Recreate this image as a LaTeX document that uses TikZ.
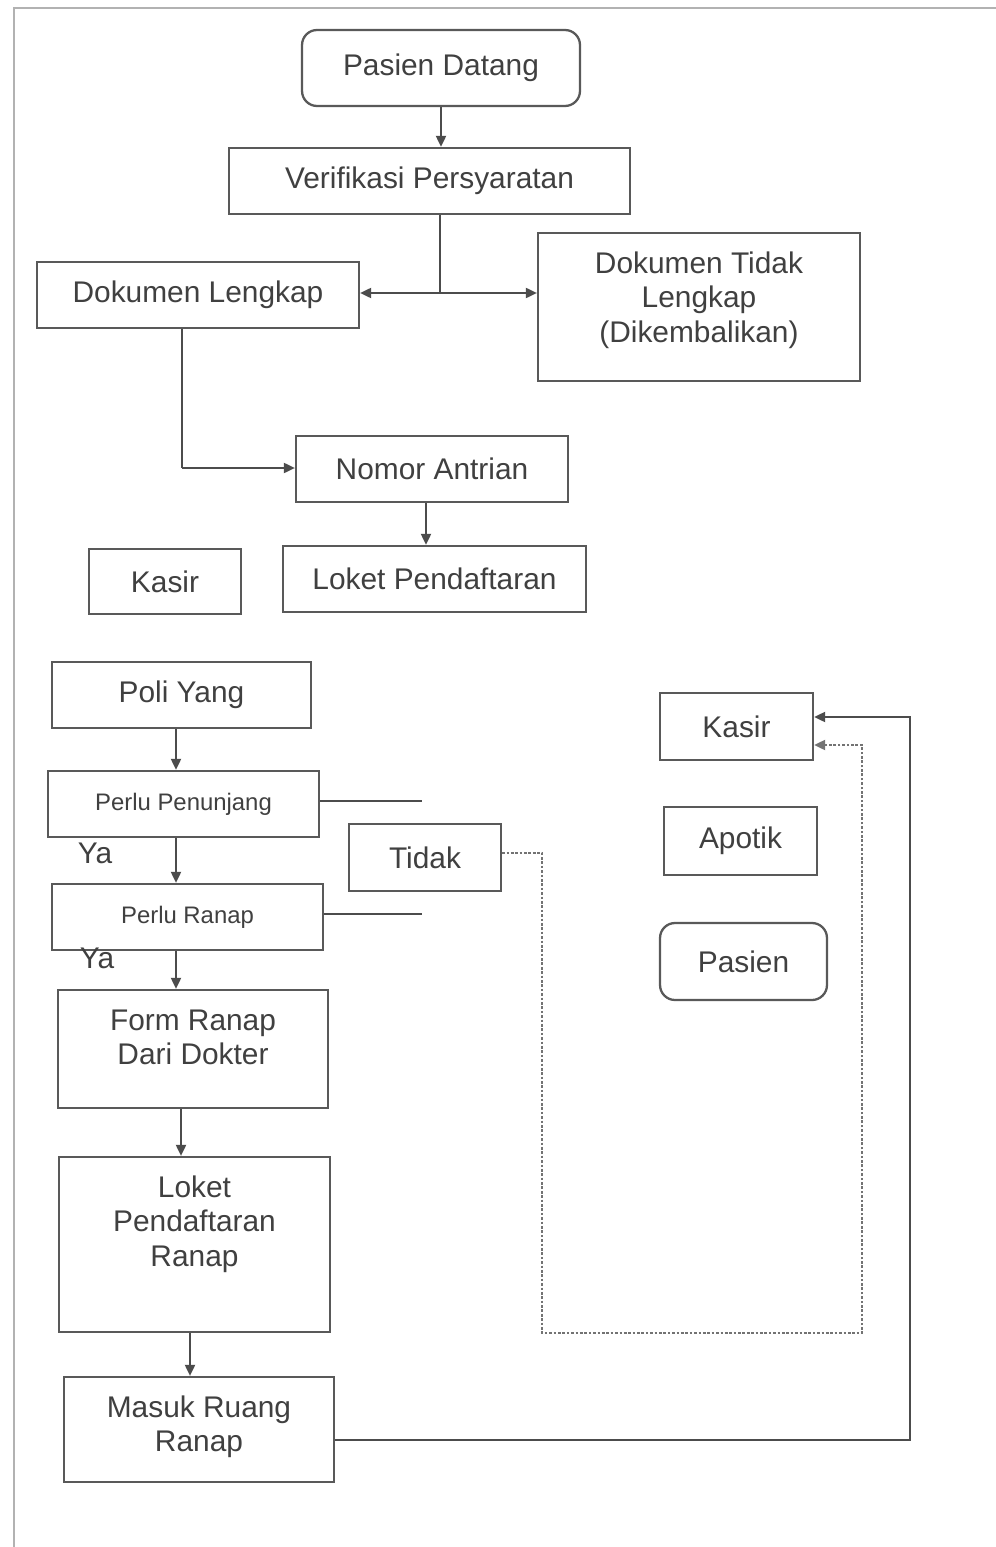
\documentclass[tikz,border=0pt]{standalone}
\usepackage{fontspec}
\setmainfont{Liberation Sans}
\usetikzlibrary{arrows.meta}
\newcommand{\tbx}[3]{\parbox[c][#2][t]{#1}{\centering\rule{0pt}{0.8cm}#3\par}}
\begin{document}
\begin{tikzpicture}[x=0.02cm, y={(0cm,-0.02cm)},
  box/.style={draw=black!65, line width=1.3pt, text=black!75, inner sep=0pt,
    font=\fontsize{17}{19.8}\selectfont},
  small/.style={font=\fontsize{13.6}{16}\selectfont},
  lbl/.style={text=black!75, inner sep=0pt, font=\fontsize{17}{19.8}\selectfont},
  conn/.style={draw=black!70, line width=1.1pt},
  arr/.style={conn, -{Triangle[length=0.22cm,width=0.2cm]}},
  dot/.style={draw=black!55, line width=1.1pt, dash pattern=on 1.5pt off 1pt},
  darr/.style={dot, -{Triangle[length=0.22cm,width=0.2cm]}}]
\useasboundingbox (0,0) rectangle (996,1547);
\fill[white] (0,0) rectangle (996,1547);
% page frame
\draw[black!30, line width=1.2pt] (14,1547) -- (14,8) -- (996,8);

% nodes
\node[box, rounded corners=0.3cm, minimum width=5.56cm, minimum height=1.52cm] (pd) at (441,68) {Pasien Datang};
\node[box, minimum width=8.02cm, minimum height=1.32cm] (ver) at (429.5,181) {Verifikasi Persyaratan};
\node[box, minimum width=6.44cm, minimum height=1.32cm] (dl) at (198,295) {Dokumen Lengkap};
\node[box] (dtl) at (699,307) {\tbx{6.44cm}{2.96cm}{Dokumen Tidak\\Lengkap\\(Dikembalikan)}};
\node[box, minimum width=5.44cm, minimum height=1.32cm] (na) at (432,469) {Nomor Antrian};
\node[box, minimum width=3.04cm, minimum height=1.30cm] (k1) at (165,581.5) {Kasir};
\node[box, minimum width=6.06cm, minimum height=1.32cm] (lp) at (434.5,579) {Loket Pendaftaran};
\node[box, minimum width=5.18cm, minimum height=1.32cm] (py) at (181.5,695) {Poli Yang};
\node[box, small, minimum width=5.42cm, minimum height=1.32cm] (pp) at (183.5,804) {Perlu Penunjang};
\node[box, minimum width=3.04cm, minimum height=1.34cm] (td) at (425,857.5) {Tidak};
\node[box, small, minimum width=5.42cm, minimum height=1.32cm] (pr) at (187.5,917) {Perlu Ranap};
\node[box] (fr) at (193,1049) {\tbx{5.40cm}{2.36cm}{Form Ranap\\Dari Dokter}};
\node[box] (lr) at (194.5,1244.5) {\tbx{5.42cm}{3.50cm}{Loket\\Pendaftaran\\Ranap}};
\node[box] (mr) at (199,1429.5) {\tbx{5.40cm}{2.10cm}{Masuk Ruang\\Ranap}};
\node[box, minimum width=3.06cm, minimum height=1.34cm] (k2) at (736.5,726.5) {Kasir};
\node[box, minimum width=3.06cm, minimum height=1.36cm] (ap) at (740.5,841) {Apotik};
\node[box, rounded corners=0.3cm, minimum width=3.34cm, minimum height=1.54cm] (ps) at (743.5,961.5) {Pasien};
\node[lbl] (ya1) at (95,853) {Ya};
\node[lbl] (ya2) at (97,958) {Ya};

% helper coordinates
\coordinate (j) at (440,293);
\coordinate (c1) at (182,468);
\coordinate (e1) at (422,801);
\coordinate (e2) at (422,914);
\coordinate (r1) at (910,1440);
\coordinate (r2) at (910,717);
\coordinate (d1) at (542,853);
\coordinate (d2) at (542,1333);
\coordinate (d3) at (862,1333);
\coordinate (d4) at (862,745);

% connectors
\draw[arr] (pd.south -| 441,0) -- (ver.north -| 441,0);
\draw[conn] (j |- ver.south) -- (j);
\draw[arr] (j) -- (j -| dl.east);
\draw[arr] (j) -- (j -| dtl.west);
\draw[conn] (c1 |- dl.south) -- (c1);
\draw[arr] (c1) -- (c1 -| na.west);
\draw[arr] (na.south -| 426,0) -- (lp.north -| 426,0);
\draw[arr] (py.south -| 176,0) -- (pp.north -| 176,0);
\draw[conn] (e1 -| pp.east) -- (e1);
\draw[arr] (pp.south -| 176,0) -- (pr.north -| 176,0);
\draw[conn] (e2 -| pr.east) -- (e2);
\draw[arr] (pr.south -| 176,0) -- (fr.north -| 176,0);
\draw[arr] (fr.south -| 181,0) -- (lr.north -| 181,0);
\draw[arr] (lr.south -| 190,0) -- (mr.north -| 190,0);
\draw[arr] (r1 -| mr.east) -- (r1) -- (r2) -- (r2 -| k2.east);
\draw[darr] (d1 -| td.east) -- (d1) -- (d2) -- (d3) -- (d4) -- (d4 -| k2.east);
\end{tikzpicture}
\end{document}
